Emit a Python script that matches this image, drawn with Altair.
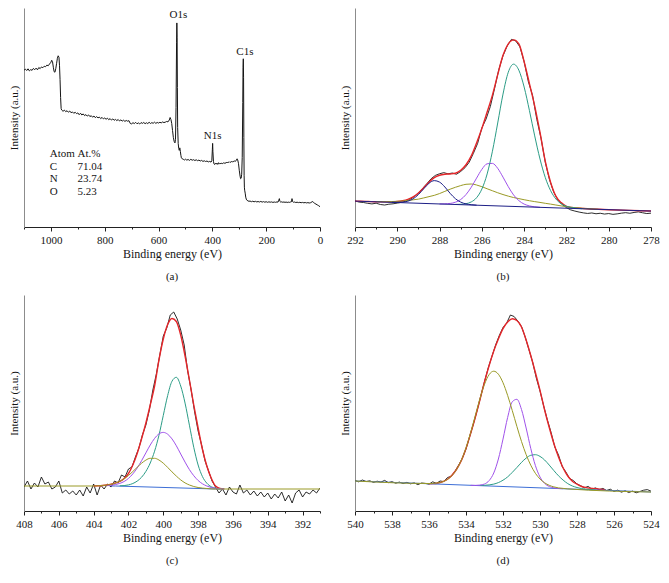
import altair as alt
import pandas as pd

SERIF = "Liberation Serif"

# ---------------- panel (a): survey ----------------
SURVEY_EV = [1100, 1095, 1090, 1085, 1080, 1075, 1070, 1065, 1060, 1055, 1050, 1045, 1040, 1035, 1030, 1025, 1020, 1015, 1010, 1005,
             1000, 997, 994, 991, 988, 985, 982, 979, 976, 973, 970, 968, 966, 964, 962, 960, 955, 950, 945, 940,
             935, 930, 925, 920, 915, 910, 905, 900, 895, 890, 885, 880, 875, 870, 865, 860, 855, 850, 845, 840,
             835, 830, 825, 820, 815, 810, 805, 800, 795, 790, 785, 780, 775, 770, 765, 760, 755, 750, 745, 740,
             735, 730, 725, 720, 715, 710, 705, 700, 695, 690, 685, 680, 675, 670, 665, 660, 655, 650, 645, 640,
             635, 630, 625, 620, 615, 610, 605, 600, 595, 590, 585, 580, 575, 570, 565, 560, 557, 554, 551, 548,
             545, 542, 539, 537, 535, 533, 532, 531, 530, 529, 527, 525, 523, 521, 519, 517, 515, 512, 508, 504,
             500, 495, 490, 485, 480, 475, 470, 465, 460, 455, 450, 445, 440, 435, 430, 425, 420, 415, 410, 405,
             402, 400, 399, 398, 396, 394, 392, 389, 386, 383, 380, 377, 374, 371, 368, 365, 362, 359, 356, 353,
             350, 347, 344, 341, 338, 335, 332, 329, 326, 323, 320, 317, 314, 311, 308, 306, 303, 300, 297, 295,
             293, 291, 289, 287, 286, 285, 284, 283, 282, 281, 280, 278, 276, 274, 272, 268, 264, 260, 255, 250,
             245, 240, 235, 230, 225, 220, 215, 210, 205, 200, 195, 190, 185, 180, 175, 170, 165, 160, 156, 153,
             151, 149, 146, 142, 138, 134, 130, 126, 122, 118, 114, 110, 106, 104, 102, 99, 95, 90, 85, 80,
             75, 70, 65, 60, 55, 50, 45, 40, 35, 30, 27, 24, 20, 15, 10, 5, 0]
SURVEY_I = [157.5, 158.6, 157.2, 158.9, 156.8, 158.1, 157.4, 159.3, 158.0, 159.6, 157.9, 160.2, 159.1, 160.8, 160.0, 161.5, 161.0, 162.6, 162.0, 163.8,
            165.5, 167.5, 166.0, 160.5, 156.0, 155.5, 159.0, 164.0, 169.5, 172.0, 170.5, 162.0, 148.0, 130.0, 119.0, 117.5, 116.2, 117.4, 115.9, 116.8,
            115.3, 116.5, 114.8, 115.6, 114.2, 115.3, 113.9, 114.6, 112.8, 114.3, 112.5, 113.6, 111.9, 112.9, 111.4, 112.6, 110.9, 111.8, 110.3, 111.5,
            109.8, 110.9, 109.6, 110.4, 108.9, 110.1, 108.6, 109.5, 108.2, 109.3, 107.8, 108.9, 107.4, 108.6, 107.2, 108.1, 106.9, 108.0, 106.5, 107.6,
            106.4, 107.3, 106.1, 107.0, 106.3, 106.8, 104.0, 103.6, 104.8, 103.9, 105.1, 103.7, 104.6, 103.5, 104.9, 104.1, 105.0, 103.8, 104.7, 103.9,
            105.2, 104.0, 104.8, 104.2, 105.3, 104.1, 105.0, 104.4, 105.2, 104.6, 105.5, 104.9, 105.3, 106.0, 105.6, 107.5, 110.0, 108.0, 104.0, 97.0,
            90.0, 86.0, 84.5, 88.0, 120.0, 185.0, 205.0, 190.0, 140.0, 100.0, 84.0, 79.0, 77.0, 79.5, 76.0, 72.0, 69.5, 68.5, 68.0, 67.3,
            68.1, 67.2, 67.8, 66.9, 68.0, 67.1, 67.6, 66.8, 67.5, 66.6, 67.2, 66.3, 66.9, 65.9, 66.5, 65.8, 66.3, 65.4, 65.9, 65.2,
            66.5, 78.0, 84.0, 76.0, 66.0, 63.5, 62.8, 64.0, 63.1, 64.2, 62.9, 64.6, 63.2, 64.0, 63.4, 64.3, 63.6, 64.5, 63.9, 64.6,
            64.1, 65.2, 64.4, 65.3, 64.8, 65.6, 64.9, 65.8, 65.2, 66.1, 65.7, 66.4, 66.0, 67.2, 68.5, 67.5, 64.0, 57.0, 51.0, 48.5,
            49.0, 53.0, 70.0, 125.0, 160.0, 169.0, 150.0, 90.0, 52.0, 40.0, 37.0, 34.0, 30.0, 28.0, 27.0, 26.3, 25.8, 26.1, 25.4, 25.9,
            25.3, 25.8, 25.2, 25.6, 25.1, 25.7, 25.0, 25.5, 24.9, 25.4, 24.8, 25.3, 24.9, 25.2, 24.7, 25.1, 24.8, 25.2, 25.0, 27.0,
            28.5, 25.8, 25.0, 25.3, 24.8, 25.2, 24.7, 25.1, 24.6, 25.0, 24.7, 25.1, 25.4, 28.5, 25.6, 24.9, 25.1, 24.6, 24.9, 24.5,
            24.8, 24.4, 24.7, 24.3, 24.6, 24.2, 24.5, 24.1, 24.4, 25.2, 25.6, 24.6, 23.8, 23.0, 22.2, 21.4, 20.4]
PEAK_LABELS = ["O1s", "N1s", "C1s"]
PEAK_LABEL_EV = [526, 399, 279]
PEAK_LABEL_I = [213, 91, 176]
TABLE_COL1 = ["Atom", "C", "N", "O"]
TABLE_COL2 = ["At.%", "71.04", "23.74", "5.23"]
TABLE_ROW_I = [73, 60.5, 48, 35.5]
TABLE_COL_EV = [1004, 901]

# ---------------- panel (b): C1s ----------------
BLACK_B_X = [292.0, 291.8, 291.6, 291.4, 291.2, 291.0, 290.8, 290.6, 290.4, 290.2,
             290.0, 289.8, 289.6, 289.4, 289.2, 289.0, 288.8, 288.6, 288.4, 288.2,
             288.0, 287.8, 287.6, 287.4, 287.2, 287.0, 286.8, 286.6, 286.4, 286.2,
             286.0, 285.8, 285.6, 285.4, 285.2, 285.0, 284.8, 284.6, 284.4, 284.2,
             284.0, 283.8, 283.6, 283.4, 283.2, 283.0, 282.8, 282.6, 282.4, 282.2,
             282.0, 281.8, 281.6, 281.4, 281.2, 281.0, 280.8, 280.6, 280.4, 280.2,
             280.0, 279.8, 279.6, 279.4, 279.2, 279.0, 278.8, 278.6, 278.4, 278.2, 278.0]
BLACK_B_Y = [26.2, 25.0, 24.6, 23.8, 23.2, 23.9, 22.6, 22.1, 22.9, 23.3,
             24.0, 24.8, 25.9, 27.6, 30.5, 34.0, 38.8, 43.5, 48.5, 51.8,
             53.5, 54.6, 53.4, 54.2, 53.0, 55.8, 59.5, 65.0, 74.0, 84.0,
             99.5, 108.5, 121.0, 139.0, 158.0, 172.0, 182.0, 188.5, 187.0, 181.0,
             166.0, 146.0, 132.0, 108.0, 89.0, 65.0, 47.5, 35.0, 27.0, 22.5,
             19.5, 17.2, 16.0, 15.0, 14.2, 13.6, 14.1, 13.3, 13.8, 13.0,
             13.5, 12.7, 13.2, 13.9, 14.4, 13.8, 14.6, 15.2, 14.3, 13.5, 13.9]
RED_B_X = [292.0, 291.75, 291.5, 291.25, 291.0, 290.75, 290.5, 290.25, 290.0, 289.75, 289.5, 289.25, 289.0, 288.75, 288.5,
           288.25, 288.0, 287.75, 287.5, 287.25, 287.0, 286.75, 286.5, 286.25, 286.0, 285.75, 285.5, 285.25, 285.0, 284.75,
           284.5, 284.25, 284.0, 283.75, 283.5, 283.25, 283.0, 282.75, 282.5, 282.25, 282.0, 281.75, 281.5, 281.25, 281.0,
           280.0, 279.0, 278.0]
RED_B_Y = [26.0, 25.8, 25.7, 25.5, 25.4, 25.3, 25.2, 25.3, 25.6, 26.4, 27.8, 30.3, 34.2, 39.5, 45.0,
           49.6, 52.0, 53.0, 53.3, 54.0, 57.0, 62.5, 71.5, 84.5, 99.0, 115.5, 132.5, 153.0, 172.5, 184.0,
           188.0, 184.0, 166.0, 144.0, 121.5, 95.0, 66.0, 45.0, 31.0, 24.5, 20.8, 19.6, 19.1, 18.7, 18.3,
           17.4, 16.7, 16.0]
TEAL_B_X = [287.25, 287.0, 286.75, 286.5, 286.25, 286.0, 285.75, 285.5, 285.25, 285.0, 284.75, 284.5, 284.25,
            284.0, 283.75, 283.5, 283.25, 283.0, 282.75, 282.5, 282.25, 282.0, 281.75, 281.5, 281.25]
TEAL_B_Y = [22.7, 22.8, 23.4, 25.2, 29.4, 38.1, 53.3, 76.1, 104.5, 133.5, 155.5, 163.6, 157.5,
            140.6, 117.0, 91.5, 68.3, 49.7, 36.6, 28.2, 23.3, 20.8, 19.5, 18.8, 18.3]
PURPLE_B_X = [288.0, 287.75, 287.5, 287.25, 287.0, 286.75, 286.5, 286.25, 286.0, 285.75,
              285.5, 285.25, 285.0, 284.75, 284.5, 284.25, 284.0, 283.75, 283.5, 283.25]
PURPLE_B_Y = [23.1, 23.3, 23.7, 24.9, 27.6, 32.6, 40.0, 49.1, 57.9, 63.5,
              63.9, 58.9, 50.1, 40.5, 32.2, 26.5, 23.0, 21.2, 20.3, 19.75]
OLIVE_B_X = [291.0, 290.75, 290.5, 290.25, 290.0, 289.75, 289.5, 289.25, 289.0, 288.75, 288.5, 288.25, 288.0, 287.75,
             287.5, 287.25, 287.0, 286.75, 286.5, 286.25, 286.0, 285.75, 285.5, 285.25, 285.0, 284.75, 284.5, 284.25,
             284.0, 283.75, 283.5, 283.25, 283.0, 282.75, 282.5, 282.25, 282.0, 281.75, 281.5, 281.25, 281.0, 280.5]
OLIVE_B_Y = [25.6, 25.5, 25.4, 25.6, 25.8, 26.1, 26.7, 27.3, 28.0, 29.2, 30.5, 31.8, 33.6, 35.8,
             38.0, 39.9, 41.6, 42.9, 43.2, 42.2, 40.5, 38.4, 36.4, 34.4, 32.6, 31.0, 29.6, 28.5,
             27.4, 26.4, 25.5, 24.7, 23.8, 23.0, 22.1, 21.2, 20.4, 19.7, 19.2, 18.8, 18.4, 17.8]
NAVY_B_X = [290.25, 290.0, 289.75, 289.5, 289.25, 289.0, 288.75, 288.5, 288.25, 288.0, 287.75, 287.5, 287.25,
            287.0, 286.75, 286.5, 286.25]
NAVY_B_Y = [24.9, 24.8, 25.0, 25.9, 28.3, 32.6, 38.4, 43.9, 46.6, 45.1, 40.2, 33.8, 28.4,
            25.0, 23.2, 22.4, 21.9]
BASE_B_X = [292.0, 278.0]
BASE_B_Y = [26.0, 16.0]

# ---------------- panel (c): N1s ----------------
BLACK_C_X = [408.0, 407.8, 407.6, 407.4, 407.2, 407.0, 406.8, 406.6, 406.4, 406.2,
             406.0, 405.8, 405.6, 405.4, 405.2, 405.0, 404.8, 404.6, 404.4, 404.2,
             404.0, 403.8, 403.6, 403.4, 403.2, 403.0, 402.8, 402.6, 402.4, 402.2,
             402.0, 401.8, 401.6, 401.4, 401.2, 401.0, 400.8, 400.6, 400.4, 400.2,
             400.0, 399.8, 399.6, 399.4, 399.2, 399.0, 398.8, 398.6, 398.4, 398.2,
             398.0, 397.8, 397.6, 397.4, 397.2, 397.0, 396.8, 396.6, 396.4, 396.2,
             396.0, 395.8, 395.6, 395.4, 395.2, 395.0, 394.8, 394.6, 394.4, 394.2,
             394.0, 393.8, 393.6, 393.4, 393.2, 393.0, 392.8, 392.6, 392.4, 392.2,
             392.0, 391.8, 391.6, 391.4, 391.2, 391.0]
BLACK_C_Y = [24, 30, 22, 28, 24, 34, 27, 29, 22, 24,
             30, 18, 21, 17, 20, 16, 21, 15, 24, 18,
             27, 16, 26, 22, 27, 24, 30, 28, 36, 34,
             42, 44, 54, 63, 76, 86, 101, 121, 137, 156,
             175, 183, 196, 199, 192, 181, 166, 140, 121, 99,
             80, 66, 50, 40, 30, 24, 18, 22, 16, 24,
             19, 17, 26, 18, 21, 16, 20, 15, 19, 14,
             18, 12, 17, 13, 19, 10, 16, 8, 18, 21,
             14, 19, 17, 21, 18, 23]
RED_C_X = [404.0, 403.75, 403.5, 403.25, 403.0, 402.75, 402.5, 402.25, 402.0, 401.75, 401.5, 401.25, 401.0,
           400.75, 400.5, 400.25, 400.0, 399.75, 399.5, 399.25, 399.0, 398.75, 398.5, 398.25, 398.0, 397.75,
           397.5, 397.25, 397.0, 396.75, 396.5]
RED_C_Y = [25.0, 25.2, 25.5, 26.0, 26.8, 28.0, 29.5, 32.5, 37.5, 46.0, 57.5, 72.0, 88.0,
           106.0, 125.0, 151.0, 172.0, 186.5, 192.5, 189.5, 176.0, 155.0, 131.0, 106.0, 83.0, 61.5,
           45.0, 33.0, 25.0, 22.6, 22.1]
TEAL_C_X = [402.5, 402.25, 402.0, 401.75, 401.5, 401.25, 401.0, 400.75, 400.5, 400.25, 400.0, 399.75,
            399.5, 399.25, 399.0, 398.75, 398.5, 398.25, 398.0, 397.75, 397.5, 397.25, 397.0, 396.75]
TEAL_C_Y = [25.2, 25.4, 26.1, 27.5, 29.9, 33.7, 39.6, 48.0, 59.8, 75.7, 95.6, 115.4,
            129.8, 133.7, 125.0, 107.9, 85.8, 63.7, 46.0, 34.4, 27.8, 24.3, 22.8, 22.0]
PURPLE_C_X = [403.25, 403.0, 402.75, 402.5, 402.25, 402.0, 401.75, 401.5, 401.25, 401.0, 400.75, 400.5, 400.25, 400.0,
              399.75, 399.5, 399.25, 399.0, 398.75, 398.5, 398.25, 398.0, 397.75, 397.5, 397.25, 397.0, 396.75, 396.5]
PURPLE_C_Y = [25.3, 25.7, 26.4, 27.6, 29.5, 32.6, 37.1, 43.0, 50.2, 58.1, 66.0, 72.6, 77.1, 78.6,
              76.8, 72.1, 65.2, 57.0, 48.9, 41.4, 35.3, 30.5, 27.2, 25.0, 23.5, 22.7, 22.3, 22.0]
OLIVE_C_X = [408.0, 404.0, 403.75, 403.5, 403.25, 403.0, 402.75, 402.5, 402.25, 402.0, 401.75, 401.5, 401.25, 401.0,
             400.75, 400.5, 400.25, 400.0, 399.75, 399.5, 399.25, 399.0, 398.75, 398.5, 398.25, 398.0, 397.75,
             397.5, 397.25, 397.0, 391.0]
OLIVE_C_Y = [25.0, 25.0, 25.2, 25.5, 25.9, 26.6, 27.9, 29.7, 32.1, 35.5, 39.5, 43.7, 47.7, 50.9,
             52.7, 52.7, 51.0, 47.8, 43.6, 39.1, 34.9, 31.1, 28.1, 26.0, 24.5, 23.5, 22.9,
             22.5, 22.1, 22.0, 22.0]
BASE_C_X = [403.0, 402.75, 397.0, 396.5]
BASE_C_Y = [25.0, 25.0, 22.0, 22.0]

# ---------------- panel (d): O1s ----------------
BLACK_D_X = [540.0, 539.8, 539.6, 539.4, 539.2, 539.0, 538.8, 538.6, 538.4, 538.2,
             538.0, 537.8, 537.6, 537.4, 537.2, 537.0, 536.8, 536.6, 536.4, 536.2,
             536.0, 535.8, 535.6, 535.4, 535.2, 535.0, 534.8, 534.6, 534.4, 534.2,
             534.0, 533.8, 533.6, 533.4, 533.2, 533.0, 532.8, 532.6, 532.4, 532.2,
             532.0, 531.8, 531.6, 531.4, 531.2, 531.0, 530.8, 530.6, 530.4, 530.2,
             530.0, 529.8, 529.6, 529.4, 529.2, 529.0, 528.8, 528.6, 528.4, 528.2,
             528.0, 527.8, 527.6, 527.4, 527.2, 527.0, 526.8, 526.6, 526.4, 526.2,
             526.0, 525.8, 525.6, 525.4, 525.2, 525.0, 524.8, 524.6, 524.4, 524.2, 524.0]
BLACK_D_Y = [30.5, 29.2, 31.0, 29.5, 30.2, 28.6, 29.8, 28.9, 30.6, 28.4,
             29.3, 27.8, 28.9, 27.5, 28.6, 27.2, 28.1, 26.4, 28.0, 27.6,
             26.8, 29.2, 27.6, 30.0, 29.4, 33.5, 34.6, 39.5, 45.8, 52.6,
             62.0, 74.5, 87.0, 100.5, 115.0, 129.5, 143.0, 154.5, 166.0, 175.5,
             183.5, 188.0, 196.0, 194.5, 190.0, 184.5, 174.0, 161.5, 149.0, 133.0,
             120.0, 105.0, 91.0, 78.5, 64.0, 56.0, 44.5, 39.0, 32.5, 30.5,
             27.0, 25.3, 23.2, 24.6, 22.0, 23.1, 21.3, 22.6, 20.5, 21.8,
             19.6, 20.9, 18.8, 20.2, 18.5, 19.9, 18.2, 19.5, 20.8, 21.4, 19.8]
RED_D_X = [536.0, 535.75, 535.5, 535.25, 535.0, 534.75, 534.5, 534.25, 534.0, 533.75,
           533.5, 533.25, 533.0, 532.75, 532.5, 532.25, 532.0, 531.75, 531.5, 531.25, 531.0, 530.75, 530.5,
           530.25, 530.0, 529.75, 529.5, 529.25, 529.0, 528.75, 528.5, 528.25, 528.0, 527.75, 527.5,
           527.0, 526.5]
RED_D_Y = [27.3, 27.4, 28.0, 29.3, 31.8, 36.0, 42.0, 50.5, 62.5, 77.5,
           93.5, 111.0, 129.0, 145.5, 160.0, 172.0, 182.4, 189.0, 192.3, 190.5, 184.0, 171.0, 155.5,
           138.5, 120.7, 101.0, 83.5, 67.5, 54.0, 43.0, 35.0, 29.8, 26.8, 24.5, 23.4,
           22.3, 21.3]
OLIVE_D_X = [540.0, 536.0, 535.75, 535.5, 535.25, 535.0, 534.75, 534.5, 534.25, 534.0, 533.75, 533.5, 533.25,
             533.0, 532.75, 532.5, 532.25, 532.0, 531.75, 531.5, 531.25, 531.0, 530.75, 530.5, 530.25, 530.0,
             529.75, 529.5, 529.25, 529.0, 528.75, 528.5, 524.0]
OLIVE_D_Y = [30.0, 27.5, 27.7, 28.2, 29.3, 31.6, 35.6, 41.8, 51.0, 63.2, 78.4, 95.3, 112.2,
             126.7, 136.4, 139.8, 136.8, 128.3, 115.6, 100.5, 84.6, 69.5, 56.4, 45.8, 37.7, 32.0,
             28.2, 25.7, 24.1, 23.1, 22.6, 22.1, 19.0]
PURPLE_D_X = [533.75, 533.5, 533.25, 533.0, 532.75, 532.5, 532.25, 532.0, 531.75, 531.5, 531.25, 531.0,
              530.75, 530.5, 530.25, 530.0, 529.75, 529.5, 529.25, 529.0, 528.75]
PURPLE_D_Y = [25.7, 25.6, 25.9, 27.0, 30.4, 38.0, 52.0, 71.9, 93.5, 109.2, 111.7, 101.5,
              83.0, 62.6, 45.5, 34.0, 27.6, 24.5, 23.1, 22.5, 22.3]
TEAL_D_X = [533.25, 533.0, 532.75, 532.5, 532.25, 532.0, 531.75, 531.5, 531.25, 531.0, 530.75, 530.5, 530.25,
            530.0, 529.75, 529.5, 529.25, 529.0, 528.75, 528.5, 528.25, 528.0, 527.75, 527.5, 527.25, 527.0]
TEAL_D_Y = [25.6, 25.7, 26.1, 26.9, 28.4, 30.8, 34.1, 38.6, 43.5, 48.6, 52.9, 55.7, 56.3,
            54.6, 51.0, 45.9, 40.4, 35.2, 30.9, 27.4, 25.0, 23.5, 22.4, 21.8, 21.4, 21.1]
BASE_D_X = [540.0, 524.0]
BASE_D_Y = [30.0, 19.0]

# ---------------- axes ----------------
TICKS_A = [1100, 1000, 900, 800, 700, 600, 500, 400, 300, 200, 100, 0]
TICKS_B = [292, 291, 290, 289, 288, 287, 286, 285, 284, 283, 282, 281, 280, 279, 278]
TICKS_C = [408, 407, 406, 405, 404, 403, 402, 401, 400, 399, 398, 397, 396, 395, 394, 393, 392, 391]
TICKS_D = [540, 539, 538, 537, 536, 535, 534, 533, 532, 531, 530, 529, 528, 527, 526, 525, 524]

C_BLACK = "#151515"
C_RED = "#e5262a"
C_TEAL = "#2b9c86"
C_PURPLE = "#a052ea"
C_OLIVE = "#9a9a26"
C_NAVY = "#1d1f86"
C_BLUE = "#3c6ed6"

PW = 296


def make_axes(lo, hi, ticks, major, ymax):
    xsc = alt.Scale(domain=[lo, hi], reverse=True, nice=False, zero=False)
    ysc = alt.Scale(domain=[0, ymax], nice=False, zero=False)
    xax = alt.Axis(values=ticks, format="d", title="Binding energy (eV)", grid=False,
                   labelExpr=f"datum.value % {major} === 0 ? datum.label : ''",
                   tickSize={"condition": {"test": f"datum.value % {major} === 0", "value": 4}, "value": 2},
                   labelOverlap=False, labelFlush=False, labelPadding=3, titlePadding=3,
                   titleFontSize=12,
                   domainColor="#222222", tickColor="#222222", domainWidth=1, tickWidth=1)
    yax = alt.Axis(title="Intensity (a.u.)", labels=False, ticks=False, grid=False,
                   domainColor="#8c8c8c", titlePadding=5)
    return xsc, ysc, xax, yax


def line(xs, ys, color, width, axes, interp="linear"):
    xsc, ysc, xax, yax = axes
    df = pd.DataFrame({"x": xs, "y": ys})
    return alt.Chart(df).mark_line(color=color, strokeWidth=width, interpolate=interp, clip=True).encode(
        x=alt.X("x:Q", scale=xsc, axis=xax),
        y=alt.Y("y:Q", scale=ysc, axis=yax),
    )


def texts(xs, ys, labels, axes, align):
    xsc, ysc, xax, yax = axes
    df = pd.DataFrame({"x": xs, "y": ys, "t": labels})
    return alt.Chart(df).mark_text(font=SERIF, fontSize=11, align=align, baseline="middle", color="#151515").encode(
        x=alt.X("x:Q", scale=xsc, axis=xax),
        y=alt.Y("y:Q", scale=ysc, axis=yax),
        text="t:N",
    )


def sub_title(s):
    return alt.TitleParams(s, orient="bottom", font=SERIF, fontSize=11, fontWeight="normal",
                           color="#151515", offset=12, anchor="middle")


# panel a
ax_a = make_axes(0, 1100, TICKS_A, 200, 220)
panel_a = alt.layer(
    line(SURVEY_EV, SURVEY_I, C_BLACK, 1.0, ax_a),
    texts(PEAK_LABEL_EV, PEAK_LABEL_I, PEAK_LABELS, ax_a, "center"),
    texts([TABLE_COL_EV[0]] * 4, TABLE_ROW_I, TABLE_COL1, ax_a, "left"),
    texts([TABLE_COL_EV[1]] * 4, TABLE_ROW_I, TABLE_COL2, ax_a, "left"),
).properties(width=PW, height=219, title=sub_title("(a)"))

# panel b
ax_b = make_axes(278, 292, TICKS_B, 2, 220)
panel_b = alt.layer(
    line(BLACK_B_X, BLACK_B_Y, C_BLACK, 0.9, ax_b),
    line(RED_B_X, RED_B_Y, C_RED, 1.4, ax_b, "monotone"),
    line(OLIVE_B_X, OLIVE_B_Y, C_OLIVE, 1.0, ax_b, "monotone"),
    line(PURPLE_B_X, PURPLE_B_Y, C_PURPLE, 1.0, ax_b, "monotone"),
    line(TEAL_B_X, TEAL_B_Y, C_TEAL, 1.0, ax_b, "monotone"),
    line(NAVY_B_X, NAVY_B_Y, C_NAVY, 1.0, ax_b, "monotone"),
    line(BASE_B_X, BASE_B_Y, C_NAVY, 1.0, ax_b),
).properties(width=PW, height=219, title=sub_title("(b)"))

# panel c
ax_c = make_axes(391, 408, TICKS_C, 2, 216)
panel_c = alt.layer(
    line(BLACK_C_X, BLACK_C_Y, C_BLACK, 0.9, ax_c),
    line(RED_C_X, RED_C_Y, C_RED, 1.4, ax_c, "monotone"),
    line(BASE_C_X, BASE_C_Y, C_BLUE, 1.0, ax_c),
    line(TEAL_C_X, TEAL_C_Y, C_TEAL, 1.0, ax_c, "monotone"),
    line(PURPLE_C_X, PURPLE_C_Y, C_PURPLE, 1.0, ax_c, "monotone"),
    line(OLIVE_C_X, OLIVE_C_Y, C_OLIVE, 1.0, ax_c, "monotone"),
).properties(width=PW, height=216, title=sub_title("(c)"))

# panel d
ax_d = make_axes(524, 540, TICKS_D, 2, 216)
panel_d = alt.layer(
    line(BLACK_D_X, BLACK_D_Y, C_BLACK, 0.9, ax_d),
    line(RED_D_X, RED_D_Y, C_RED, 1.4, ax_d, "monotone"),
    line(BASE_D_X, BASE_D_Y, C_BLUE, 1.0, ax_d),
    line(TEAL_D_X, TEAL_D_Y, C_TEAL, 1.0, ax_d, "monotone"),
    line(PURPLE_D_X, PURPLE_D_Y, C_PURPLE, 1.0, ax_d, "monotone"),
    line(OLIVE_D_X, OLIVE_D_Y, C_OLIVE, 1.0, ax_d, "monotone"),
).properties(width=PW, height=216, title=sub_title("(d)"))

chart = alt.concat(
    panel_a, panel_b, panel_c, panel_d,
    columns=2, spacing={"row": 68, "column": 35}, bounds="flush",
).properties(padding=0).configure_view(stroke=None).configure_axis(
    labelFont=SERIF, titleFont=SERIF, labelFontSize=11, titleFontSize=11,
    titleFontWeight="normal", labelColor="#151515", titleColor="#151515",
)

chart.save("out.html", embed_options={"renderer": "svg", "actions": False})
